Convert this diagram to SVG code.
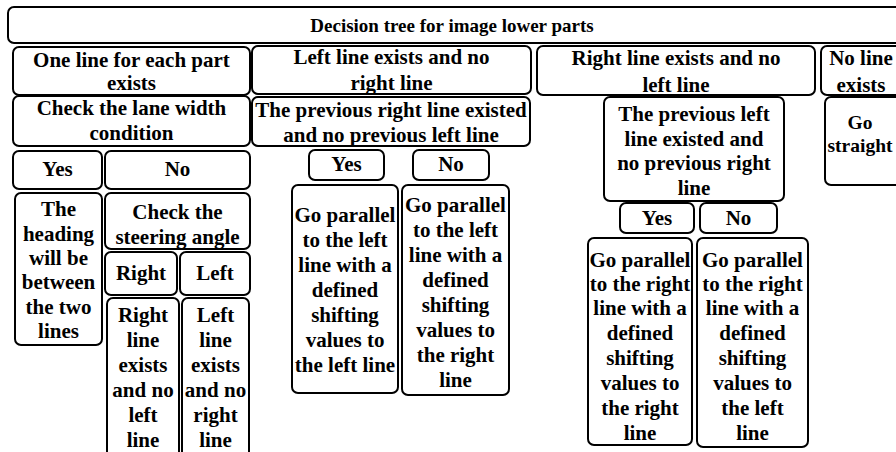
<svg xmlns="http://www.w3.org/2000/svg" width="896" height="452" viewBox="0 0 896 452" font-family="'Liberation Serif', 'DejaVu Serif', serif">
<style>
.b{fill:#fff;stroke:#000;stroke-width:2}
text{font-family:'Liberation Serif','DejaVu Serif',serif;font-weight:700;font-size:21px;text-anchor:middle;dominant-baseline:central;fill:#000}
.t{font-size:19px}
.s{font-size:19.5px}
</style>
<rect x="0" y="0" width="896" height="452" fill="#fff"/>
<g id="connectors"></g>
<g id="title"><rect class="b" x="8" y="7" width="900" height="36" rx="6"/><text class="t" x="452" y="25">Decision tree for image lower parts</text></g>
<g id="n_one"><rect class="b" x="13" y="47" width="237" height="48" rx="6"/><text x="131.5" y="60">One line for each part</text><text x="131.5" y="83">exists</text></g>
<g id="n_left"><rect class="b" x="252" y="46" width="279" height="48" rx="6"/><text x="391.5" y="57">Left line exists and no</text><text x="391.5" y="83">right line</text></g>
<g id="n_right"><rect class="b" x="537" y="46" width="278" height="49" rx="6"/><text x="676" y="58">Right line exists and no</text><text x="676" y="85">left line</text></g>
<g id="n_none"><rect class="b" x="821" y="46" width="90" height="49" rx="6"/><text x="861" y="58">No line</text><text x="861" y="85">exists</text></g>
<g id="n_lane"><rect class="b" x="13" y="96" width="237" height="50" rx="6"/><text x="131.5" y="108">Check the lane width</text><text x="131.5" y="133">condition</text></g>
<g id="n_prevR"><rect class="b" x="252" y="97" width="278" height="49" rx="6"/><text x="391" y="110">The previous right line existed</text><text x="391" y="135">and no previous left line</text></g>
<g id="n_prevL"><rect class="b" x="604" y="97" width="180" height="104" rx="6"/><text x="694" y="114">The previous left</text><text x="694" y="138.5">line existed and</text><text x="694" y="163">no previous right</text><text x="694" y="187.5">line</text></g>
<g id="n_straight"><rect class="b" x="825" y="97" width="90" height="88" rx="6"/><text class="s" x="860" y="122">Go</text><text class="s" x="860" y="145">straight</text></g>
<g id="yes1"><rect class="b" x="13" y="151" width="89" height="38" rx="6"/><text x="57.5" y="169">Yes</text></g>
<g id="no1"><rect class="b" x="105" y="151" width="145" height="38" rx="6"/><text x="177.5" y="169">No</text></g>
<g id="heading"><rect class="b" x="15" y="193" width="87" height="152" rx="6"/><text x="58.5" y="209">The</text><text x="58.5" y="234">heading</text><text x="58.5" y="258">will be</text><text x="58.5" y="282">between</text><text x="58.5" y="307">the two</text><text x="58.5" y="331">lines</text></g>
<g id="steer"><rect class="b" x="105" y="193" width="145" height="56" rx="6"/><text x="177.5" y="212">Check the</text><text x="177.5" y="237">steering angle</text></g>
<g id="right"><rect class="b" x="105" y="252" width="72" height="43" rx="6"/><text x="141" y="273">Right</text></g>
<g id="left"><rect class="b" x="180" y="252" width="70" height="43" rx="6"/><text x="215" y="273">Left</text></g>
<g id="rle"><rect class="b" x="107" y="298" width="72" height="162" rx="6"/><text x="143" y="315">Right</text><text x="143" y="340">line</text><text x="143" y="365">exists</text><text x="143" y="390">and no</text><text x="143" y="415">left</text><text x="143" y="440">line</text></g>
<g id="lle"><rect class="b" x="182" y="298" width="67" height="162" rx="6"/><text x="215.5" y="315">Left</text><text x="215.5" y="340">line</text><text x="215.5" y="365">exists</text><text x="215.5" y="390">and no</text><text x="215.5" y="415">right</text><text x="215.5" y="440">line</text></g>
<g id="yes2"><rect class="b" x="309" y="150" width="75" height="30" rx="6"/><text x="346.5" y="164">Yes</text></g>
<g id="no2"><rect class="b" x="413" y="150" width="76" height="30" rx="6"/><text x="451" y="164">No</text></g>
<g id="gpl1"><rect class="b" x="292" y="185" width="106" height="208" rx="6"/><text x="345" y="215">Go parallel</text><text x="345" y="240">to the left</text><text x="345" y="265">line with a</text><text x="345" y="290">defined</text><text x="345" y="315">shifting</text><text x="345" y="340">values to</text><text x="345" y="365">the left line</text></g>
<g id="gpl2"><rect class="b" x="402" y="185" width="107" height="210" rx="6"/><text x="455.5" y="205">Go parallel</text><text x="455.5" y="230">to the left</text><text x="455.5" y="255">line with a</text><text x="455.5" y="280">defined</text><text x="455.5" y="305">shifting</text><text x="455.5" y="330">values to</text><text x="455.5" y="355">the right</text><text x="455.5" y="380">line</text></g>
<g id="yes3"><rect class="b" x="620" y="203" width="74" height="30" rx="6"/><text x="657" y="218">Yes</text></g>
<g id="no3"><rect class="b" x="700" y="203" width="77" height="30" rx="6"/><text x="738.5" y="218">No</text></g>
<g id="gpr1"><rect class="b" x="588" y="238" width="104" height="207" rx="6"/><text x="640" y="260">Go parallel</text><text x="640" y="284">to the right</text><text x="640" y="308">line with a</text><text x="640" y="333">defined</text><text x="640" y="358">shifting</text><text x="640" y="383">values to</text><text x="640" y="408">the right</text><text x="640" y="433">line</text></g>
<g id="gpr2"><rect class="b" x="697" y="238" width="111" height="209" rx="6"/><text x="752.5" y="260">Go parallel</text><text x="752.5" y="284">to the right</text><text x="752.5" y="308">line with a</text><text x="752.5" y="333">defined</text><text x="752.5" y="358">shifting</text><text x="752.5" y="383">values to</text><text x="752.5" y="408">the left</text><text x="752.5" y="433">line</text></g>
</svg>
